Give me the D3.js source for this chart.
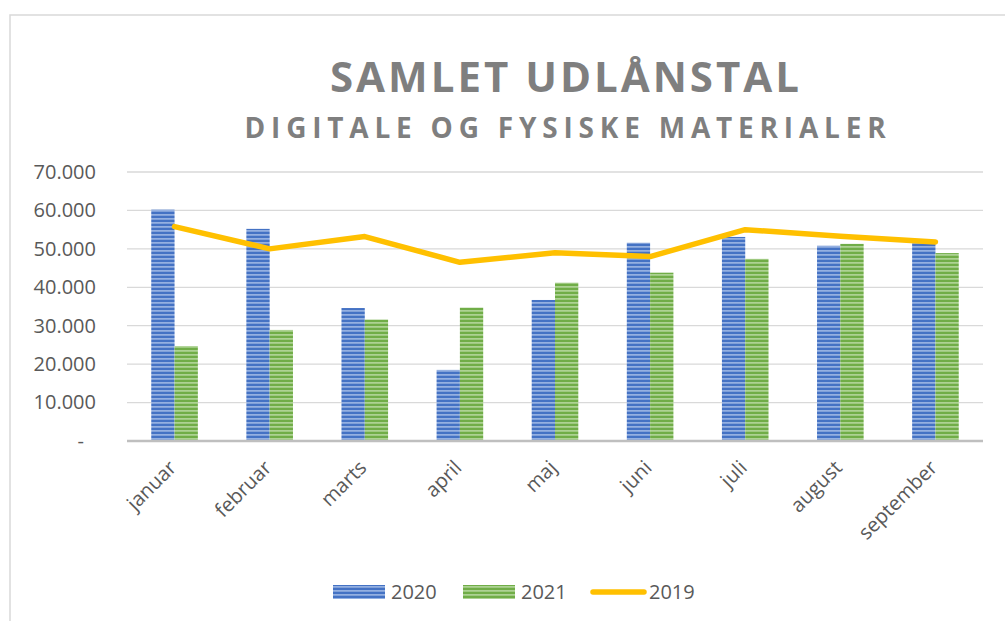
<!DOCTYPE html>
<html>
<head>
<meta charset="utf-8">
<script src="https://cdn.jsdelivr.net/npm/d3@7"></script>
<style>
  body { margin: 0; background: #fff; }
  svg { display: block; font-family: "Open Sans", sans-serif; }
</style>
</head>
<body>
<div class="chart"></div>
<script>
// data
var months = ["januar", "februar", "marts", "april", "maj", "juni", "juli", "august", "september"];
var values2020 = [60200, 55200, 34600, 18500, 36700, 51600, 53100, 50800, 51500];
var values2021 = [24700, 28900, 31600, 34700, 41200, 43800, 47400, 51300, 48900];
var values2019 = [55800, 50000, 53200, 46500, 49000, 48000, 55000, 53300, 51800];
var yTicks = [0, 10000, 20000, 30000, 40000, 50000, 60000, 70000];
var legendItems = ["2020", "2021", "2019"];

var width = 1005, height = 621;
var margin = {top: 172, right: 22, bottom: 180, left: 127};

var svg = d3.select(".chart").append("svg")
    .attr("width", width)
    .attr("height", height);

// chart area border (only top and left are visible in the crop)
svg.append("path")
    .attr("d", "M10,621V15H1005")
    .attr("fill", "none")
    .attr("stroke", "#d9d9d9")
    .attr("stroke-width", 1.5);

// striped fills like the excel "horizontal line" pattern
var defs = svg.append("defs");
function stripes(id, base, light) {
  var p = defs.append("pattern")
      .attr("id", id)
      .attr("patternUnits", "userSpaceOnUse")
      .attr("width", 8).attr("height", 4);
  p.append("rect").attr("width", 8).attr("height", 4).attr("fill", base);
  p.append("rect").attr("y", 2.2).attr("width", 8).attr("height", 1.4).attr("fill", light);
}
stripes("blueStripe", "#4472c4", "#a8bfe8");
stripes("greenStripe", "#70ad47", "#bcdca6");

var x = d3.scaleBand()
    .domain(months)
    .range([margin.left, width - margin.right]);

var y = d3.scaleLinear()
    .domain([0, 70000])
    .range([height - margin.bottom, margin.top]);

var barW = x.bandwidth() * 0.245;

// gridlines
svg.append("g")
    .selectAll("line")
    .data(yTicks.slice(1))
    .enter().append("line")
    .attr("x1", margin.left).attr("x2", width - margin.right)
    .attr("y1", function(d) { return y(d); })
    .attr("y2", function(d) { return y(d); })
    .attr("stroke", "#d9d9d9")
    .attr("stroke-width", 1.3);

// y axis labels
var yAxis = svg.append("g")
    .attr("transform", "translate(" + (margin.left - 28) + ",0)")
    .call(d3.axisLeft(y).tickValues(yTicks).tickSize(0)
      .tickFormat(function(d) { return d === 0 ? "-" : d3.format(",")(d).replace(/,/g, "."); }));
yAxis.select(".domain").remove();
yAxis.selectAll("text")
    .attr("font-family", "Open Sans, sans-serif")
    .attr("font-size", 20)
    .attr("fill", "#595959")
    .attr("dx", function(d) { return d === 0 ? -12 : 0; });

// bars
var groups = svg.append("g");
groups.selectAll(".b2020")
    .data(values2020)
    .enter().append("rect")
    .attr("class", "b2020")
    .attr("x", function(d, i) { return x(months[i]) + x.bandwidth() / 2 - barW; })
    .attr("y", function(d) { return y(d); })
    .attr("width", barW)
    .attr("height", function(d) { return y(0) - y(d); })
    .attr("fill", "url(#blueStripe)");

groups.selectAll(".b2021")
    .data(values2021)
    .enter().append("rect")
    .attr("class", "b2021")
    .attr("x", function(d, i) { return x(months[i]) + x.bandwidth() / 2; })
    .attr("y", function(d) { return y(d); })
    .attr("width", barW)
    .attr("height", function(d) { return y(0) - y(d); })
    .attr("fill", "url(#greenStripe)");

// baseline
svg.append("line")
    .attr("x1", margin.left).attr("x2", width - margin.right)
    .attr("y1", y(0)).attr("y2", y(0))
    .attr("stroke", "#bfbfbf")
    .attr("stroke-width", 2.5);

// 2019 line
var line = d3.line()
    .x(function(d, i) { return x(months[i]) + x.bandwidth() / 2; })
    .y(function(d) { return y(d); });
svg.append("path")
    .datum(values2019)
    .attr("d", line)
    .attr("fill", "none")
    .attr("stroke", "#ffc000")
    .attr("stroke-width", 5.5)
    .attr("stroke-linejoin", "round")
    .attr("stroke-linecap", "round");

// x axis labels, rotated
svg.append("g")
    .selectAll("text")
    .data(months)
    .enter().append("text")
    .attr("transform", function(d) {
      return "translate(" + (x(d) + x.bandwidth() / 2 + 3) + "," + (y(0) + 28) + ") rotate(-45)";
    })
    .attr("text-anchor", "end")
    .attr("font-size", 20)
    .attr("fill", "#595959")
    .text(function(d) { return d; });

// titles
svg.append("text")
    .attr("x", 566).attr("y", 92)
    .attr("text-anchor", "middle")
    .attr("font-size", 42)
    .attr("font-weight", "bold")
    .attr("letter-spacing", 3)
    .attr("fill", "#7f7f7f")
    .text("SAMLET UDLÅNSTAL");

svg.append("text")
    .attr("x", 568).attr("y", 138)
    .attr("text-anchor", "middle")
    .attr("font-size", 28)
    .attr("font-weight", "bold")
    .attr("letter-spacing", 5.8)
    .attr("fill", "#7f7f7f")
    .text("DIGITALE OG FYSISKE MATERIALER");

// legend
var legendX = [333, 463, 591];
var legend = svg.append("g");
legendItems.forEach(function(name, i) {
  var g = legend.append("g").attr("transform", "translate(" + legendX[i] + ",592)");
  if (i < 2) {
    g.append("rect")
      .attr("y", -7).attr("width", 52).attr("height", 14)
      .attr("fill", i === 0 ? "url(#blueStripe)" : "url(#greenStripe)");
  } else {
    g.append("line")
      .attr("x1", 2).attr("x2", 53)
      .attr("stroke", "#ffc000").attr("stroke-width", 5.5)
      .attr("stroke-linecap", "round");
  }
  g.append("text")
    .attr("x", 58).attr("y", 7)
    .attr("font-size", 20)
    .attr("fill", "#595959")
    .text(name);
});
</script>
</body>
</html>
